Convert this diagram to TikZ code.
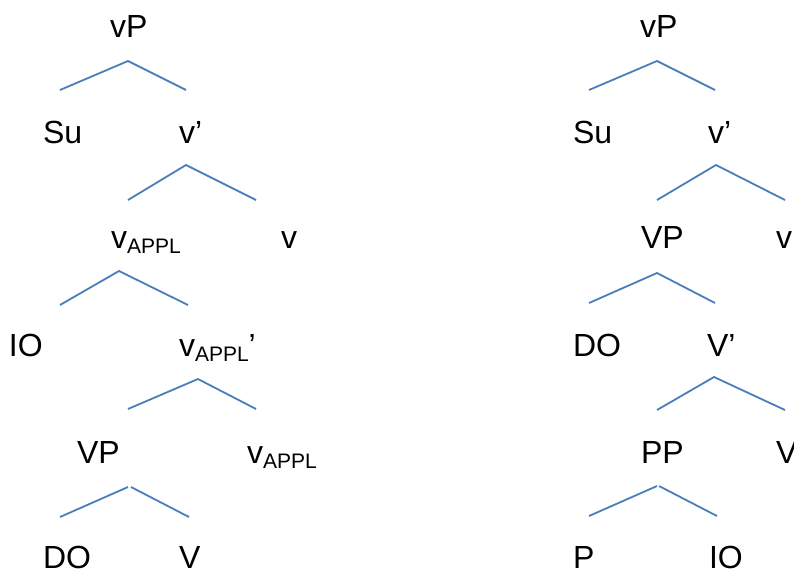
\documentclass[tikz,border=0pt]{standalone}
\usepackage{fontspec}
\setmainfont{Liberation Sans}
\definecolor{edgeblue}{HTML}{4A7EBB}
\newcommand{\appl}{\raisebox{-5pt}{\fontsize{21}{21}\selectfont APPL}}
\begin{document}
\begin{tikzpicture}[x=1pt,y=-1pt,
  lab/.style={anchor=base west,inner sep=0pt,outer sep=0pt,font=\fontsize{32}{38}\selectfont},
  edge/.style={draw=edgeblue,line width=1.8pt}]
\useasboundingbox (0,0) rectangle (794,571);
\clip (0,0) rectangle (794,571);
% ---------- left tree ----------
\node[lab] (LvP) at (110,37) {vP};
\node[lab] (LSu) at (43,143) {Su};
\node[lab] (Lvbar) at (179,143) {v’};
\node[lab] (Lvappl) at (111,248) {v\appl};
\node[lab] (Lv) at (281,248) {v};
\node[lab] (LIO) at (9,356) {IO};
\node[lab] (Lvapplbar) at (179,356) {v\appl’};
\node[lab] (LVP) at (77,463) {VP};
\node[lab] (Lvappl2) at (247,463) {v\appl};
\node[lab] (LDO) at (43,568) {DO};
\node[lab] (LV) at (179,568) {V};
\draw[edge] (60,90) -- (128,61) -- (186,90);
\draw[edge] (128,200) -- (186,165) -- (256,200);
\draw[edge] (60,305) -- (119,271) -- (188,305);
\draw[edge] (128,409) -- (198,379) -- (256,409);
\draw[edge] (60,517) -- (128,487);
\draw[edge] (131,487) -- (189,517);
% ---------- right tree ----------
\node[lab] (RvP) at (640,37) {vP};
\node[lab] (RSu) at (573,143) {Su};
\node[lab] (Rvbar) at (708,143) {v’};
\node[lab] (RVP) at (641,248) {VP};
\node[lab] (Rv) at (776,248) {v};
\node[lab] (RDO) at (573,356) {DO};
\node[lab] (RVbar) at (707,356) {V’};
\node[lab] (RPP) at (641,463) {PP};
\node[lab] (RV) at (776,463) {V};
\node[lab] (RP) at (573,568) {P};
\node[lab] (RIO) at (709,568) {IO};
\draw[edge] (589,90) -- (657,61) -- (715,90);
\draw[edge] (657,200) -- (716,165) -- (785,200);
\draw[edge] (589,303) -- (657,273) -- (715,303);
\draw[edge] (657,410) -- (714,377) -- (785,410);
\draw[edge] (589,516) -- (657,486);
\draw[edge] (659,486) -- (717,516);
\end{tikzpicture}
\end{document}
